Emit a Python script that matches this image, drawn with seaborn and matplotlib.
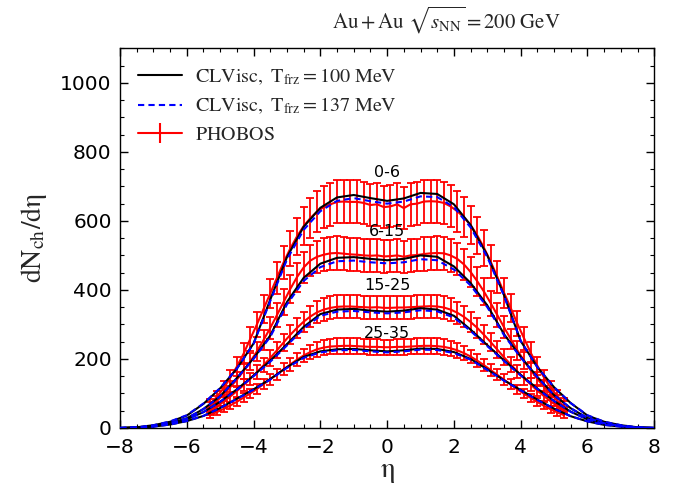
import numpy as np
import pandas as pd
import seaborn as sns
import matplotlib
matplotlib.use("Agg")
import matplotlib.pyplot as plt
from matplotlib.lines import Line2D
from matplotlib.ticker import MultipleLocator

# ---------------- data ----------------
centralities = ["0-6", "6-15", "15-25", "25-35"]

eta_model = [-8.0, -7.5, -7.0, -6.5, -6.0, -5.5, -5.0, -4.5, -4.0, -3.5, -3.0,
             -2.5, -2.0, -1.5, -1.0, -0.5, 0.0, 0.5, 1.0, 1.5, 2.0, 2.5, 3.0,
             3.5, 4.0, 4.5, 5.0, 5.5, 6.0, 6.5, 7.0, 7.5, 8.0]

# CLVisc, T_frz = 100 MeV
m100_0_6 = [0, 2, 8, 18, 36, 70, 115, 172, 245, 372, 495, 583, 638, 668, 675, 666, 658,
            665, 681, 678, 648, 588, 500, 385, 252, 176, 118, 72, 36, 18, 8, 2, 0]
m100_6_15 = [0, 1, 6, 14, 28, 55, 92, 145, 202, 268, 365, 435, 476, 493, 495, 490, 486,
             490, 500, 496, 468, 420, 355, 272, 206, 148, 95, 57, 29, 14, 6, 1, 0]
m100_15_25 = [0, 1, 5, 12, 25, 46, 76, 112, 152, 195, 243, 293, 330, 343, 345, 340, 337,
              340, 347, 343, 325, 285, 240, 196, 154, 114, 78, 47, 25, 12, 5, 1, 0]
m100_25_35 = [0, 1, 4, 10, 20, 35, 58, 85, 112, 142, 176, 206, 222, 228, 229, 225, 222,
              225, 230, 229, 220, 200, 170, 138, 110, 82, 56, 34, 19, 9, 4, 1, 0]

# CLVisc, T_frz = 137 MeV
m137_0_6 = [0, 2, 8, 19, 37, 71, 116, 172, 244, 368, 488, 574, 628, 658, 666, 657, 650,
            656, 671, 669, 640, 581, 495, 383, 252, 176, 118, 72, 37, 18, 8, 2, 0]
m137_6_15 = [0, 1, 6, 14, 28, 55, 92, 144, 200, 264, 358, 426, 466, 483, 485, 480, 477,
             480, 489, 486, 459, 413, 350, 269, 204, 147, 95, 57, 29, 14, 6, 1, 0]
m137_15_25 = [0, 1, 5, 12, 25, 46, 76, 111, 150, 192, 239, 288, 325, 337, 339, 335, 332,
              335, 341, 338, 320, 281, 237, 194, 152, 113, 78, 47, 25, 12, 5, 1, 0]
m137_25_35 = [0, 1, 4, 10, 20, 35, 58, 84, 111, 140, 174, 203, 219, 225, 226, 222, 219,
              222, 227, 226, 217, 198, 168, 137, 109, 81, 56, 34, 19, 9, 4, 1, 0]

# PHOBOS
eta_data = [-5.3, -5.1, -4.9, -4.7, -4.5, -4.3, -4.1, -3.9, -3.7, -3.5, -3.3, -3.1,
            -2.9, -2.7, -2.5, -2.3, -2.1, -1.9, -1.7, -1.5, -1.3, -1.1, -0.9, -0.7,
            -0.5, -0.3, -0.1, 0.1, 0.3, 0.5, 0.7, 0.9, 1.1, 1.3, 1.5, 1.7, 1.9, 2.1,
            2.3, 2.5, 2.7, 2.9, 3.1, 3.3, 3.5, 3.7, 3.9, 4.1, 4.3, 4.5, 4.7, 4.9, 5.1, 5.3]
phobos_0_6 = [70, 90, 115, 145, 178, 215, 258, 300, 345, 390, 435, 480, 520, 555, 585,
              608, 627, 640, 648, 655, 656, 655, 655, 652, 646, 648, 640, 642, 648, 637,
              648, 650, 656, 657, 656, 652, 642, 628, 610, 588, 558, 522, 482, 438, 392,
              348, 302, 260, 218, 180, 146, 116, 92, 72]
phobos_6_15 = [62, 78, 97, 118, 140, 165, 192, 222, 255, 290, 327, 365, 403, 437, 465,
               485, 496, 502, 506, 507, 505, 503, 502, 500, 499, 500, 497, 498, 500, 496,
               500, 501, 504, 506, 507, 506, 500, 490, 474, 452, 425, 395, 362, 327, 292,
               258, 225, 195, 167, 142, 119, 98, 79, 63]
phobos_15_25 = [50, 62, 76, 91, 107, 124, 142, 162, 182, 203, 225, 248, 270, 290, 308,
                323, 335, 343, 348, 351, 352, 352, 351, 350, 349, 350, 348, 348, 349, 349,
                350, 351, 352, 353, 352, 349, 343, 334, 322, 307, 290, 270, 249, 227, 205,
                184, 164, 144, 126, 108, 92, 77, 63, 51]
phobos_25_35 = [38, 46, 55, 65, 76, 88, 100, 113, 127, 141, 155, 170, 184, 198, 210,
                220, 228, 233, 236, 237, 238, 238, 237, 236, 235, 235, 234, 234, 235, 235,
                236, 237, 238, 238, 237, 235, 231, 225, 217, 207, 195, 182, 168, 154, 140,
                126, 112, 99, 87, 75, 64, 54, 45, 37]
# relative systematic uncertainty of the PHOBOS points (per eta bin)
phobos_rel_err = [0.22, 0.2, 0.18, 0.16, 0.15, 0.14, 0.13, 0.12, 0.115, 0.11, 0.105, 0.1,
                  0.1, 0.097, 0.095, 0.095, 0.095, 0.095, 0.095, 0.095, 0.095, 0.095,
                  0.095, 0.095, 0.095, 0.095, 0.095, 0.095, 0.095, 0.095, 0.095, 0.095,
                  0.095, 0.095, 0.095, 0.095, 0.095, 0.095, 0.095, 0.095, 0.097, 0.1,
                  0.1, 0.105, 0.11, 0.115, 0.12, 0.13, 0.14, 0.15, 0.16, 0.18, 0.2, 0.22]

label_pos = {"0-6": 739, "6-15": 568, "15-25": 414, "25-35": 275}

model100 = {"0-6": m100_0_6, "6-15": m100_6_15, "15-25": m100_15_25, "25-35": m100_25_35}
model137 = {"0-6": m137_0_6, "6-15": m137_6_15, "15-25": m137_15_25, "25-35": m137_25_35}
phobos = {"0-6": phobos_0_6, "6-15": phobos_6_15, "15-25": phobos_15_25, "25-35": phobos_25_35}

# ---------------- style ----------------
sns.set_theme(style="ticks")
plt.rcParams["font.family"] = ["DejaVu Sans"]
plt.rcParams["mathtext.fontset"] = "stix"
plt.rcParams["xtick.direction"] = "in"
plt.rcParams["ytick.direction"] = "in"

fig = plt.figure(figsize=(6.78, 4.98), dpi=100)
ax = fig.add_axes([0.177, 0.1406, 0.788, 0.7624])

rows100, rows137 = [], []
for c in centralities:
    for e, v in zip(eta_model, model100[c]):
        rows100.append({"eta": e, "dndeta": v, "cent": c})
    for e, v in zip(eta_model, model137[c]):
        rows137.append({"eta": e, "dndeta": v, "cent": c})
df100 = pd.DataFrame(rows100)
df137 = pd.DataFrame(rows137)

for c in centralities:
    d = df100[df100.cent == c]
    sns.lineplot(data=d, x="eta", y="dndeta", ax=ax, color="black", lw=1.5,
                 estimator=None, sort=True, legend=False, zorder=3)
    d = df137[df137.cent == c]
    sns.lineplot(data=d, x="eta", y="dndeta", ax=ax, color="blue", lw=1.5,
                 linestyle=(0, (3, 2)), estimator=None, sort=True, legend=False, zorder=4)

for c in centralities:
    vals = np.array(phobos[c], dtype=float)
    errs = vals * np.array(phobos_rel_err)
    ax.errorbar(eta_data, vals, yerr=errs, color="red", lw=1.5, elinewidth=1.3,
                capsize=3, capthick=1.3, zorder=2)
    ax.text(0, label_pos[c], c, ha="center", va="center", fontsize=11.5, color="black")

ax.set_xlim(-8, 8)
ax.set_ylim(0, 1100)
ax.xaxis.set_major_locator(MultipleLocator(2))
ax.xaxis.set_minor_locator(MultipleLocator(0.5))
ax.yaxis.set_major_locator(MultipleLocator(200))
ax.yaxis.set_minor_locator(MultipleLocator(50))
ax.tick_params(which="both", top=True, right=True, direction="in", labelsize=14.5,
               colors="black")
ax.tick_params(which="major", length=6, width=1)
ax.tick_params(which="minor", length=3, width=0.8)
ax.tick_params(axis="x", which="major", pad=7)
ax.tick_params(axis="y", which="major", pad=6)
ax.set_yticks([0, 200, 400, 600, 800, 1000])
for s in ax.spines.values():
    s.set_color("black")
    s.set_linewidth(1)

ax.set_xlabel(r"$\mathrm{\eta}$", fontsize=21, labelpad=0)
ax.set_ylabel(r"$\mathrm{dN_{ch}/d\eta}$", fontsize=20, labelpad=8)

fig.text(446 / 678, 1 - 20 / 498, r"$\mathrm{Au+Au}\ \sqrt{s_{\mathrm{NN}}}=200\ \mathrm{GeV}$",
         ha="center", va="center", fontsize=15)

h1 = Line2D([], [], color="black", lw=1.5)
h2 = Line2D([], [], color="blue", lw=1.5, linestyle=(0, (3, 2)))
h3 = ax.errorbar([], [], yerr=[], color="red", lw=1.5, capsize=3)
leg = ax.legend([h1, h2, h3],
                [r"$\mathrm{CLVisc,}\ \mathrm{T_{frz}=100\ MeV}$",
                 r"$\mathrm{CLVisc,}\ \mathrm{T_{frz}=137\ MeV}$",
                 r"$\mathrm{PHOBOS}$"],
                loc="upper left", frameon=False, fontsize=14.5, handlelength=2.2,
                handletextpad=0.6, borderaxespad=0.5, labelspacing=0.45)

fig.savefig("out.png", dpi=100)
